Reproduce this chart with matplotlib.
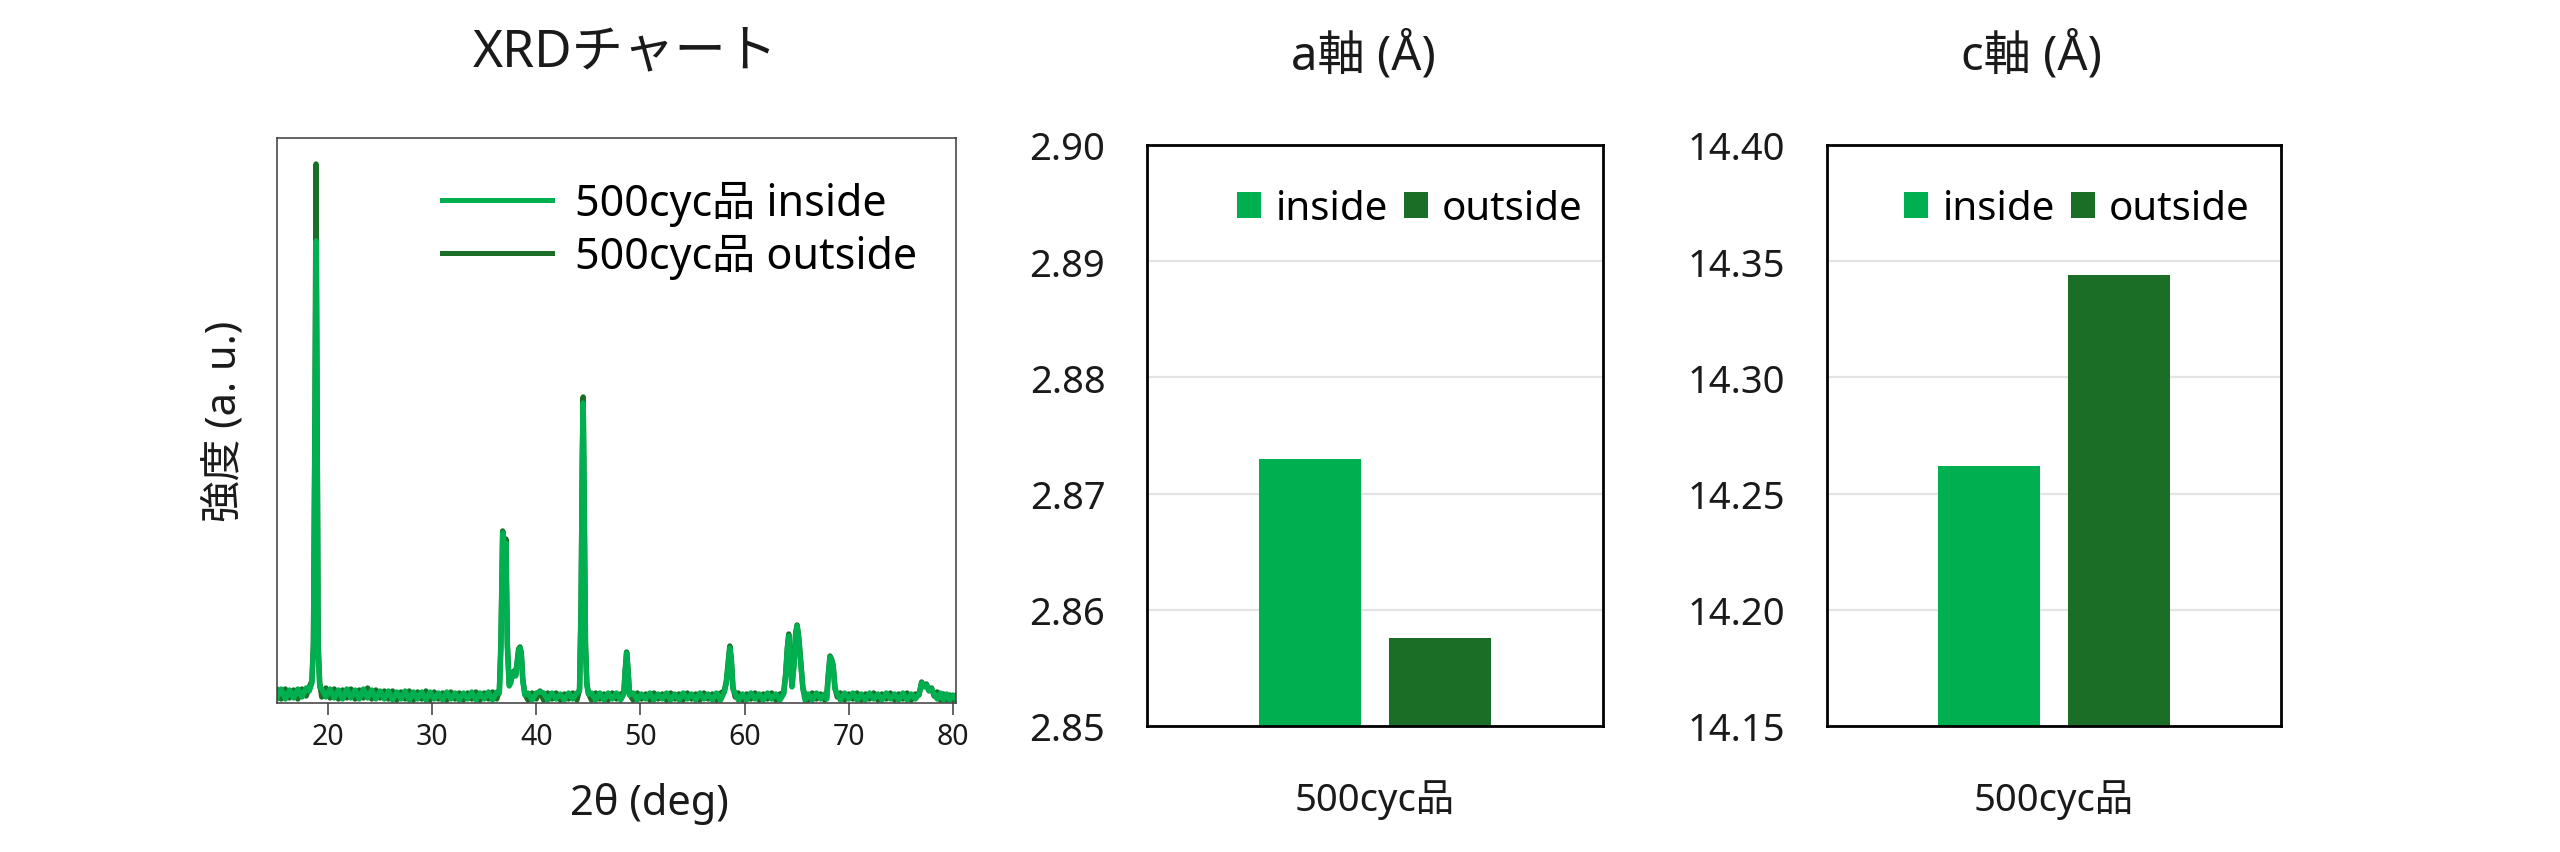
import matplotlib
matplotlib.use("Agg")
import matplotlib.pyplot as plt
from matplotlib.lines import Line2D
from matplotlib.patches import Patch

plt.rcParams['font.family'] = ['Noto Sans', 'Noto Sans CJK JP', 'DejaVu Sans']

# ---------------- data ----------------
two_theta = [
    15.1, 15.5, 15.9, 16.3, 16.7, 17.1, 17.5, 17.9, 18.2, 18.45,
    18.6, 18.75, 18.85, 18.95, 19.05, 19.2, 19.4, 19.8, 20.2, 20.6,
    21.0, 21.4, 21.8, 22.2, 22.6, 23.0, 23.4, 23.8, 24.2, 24.6,
    25.0, 25.4, 25.8, 26.2, 26.6, 27.0, 27.4, 27.8, 28.2, 28.6,
    29.0, 29.4, 29.8, 30.2, 30.6, 31.0, 31.4, 31.8, 32.2, 32.6,
    33.0, 33.4, 33.8, 34.2, 34.6, 35.0, 35.4, 35.8, 36.2, 36.45,
    36.6, 36.77, 36.92, 37.08, 37.22, 37.4, 37.55, 37.72, 37.88, 38.02,
    38.15, 38.3, 38.43, 38.56, 38.7, 38.9, 39.2, 39.6, 40.0, 40.35,
    40.7, 41.1, 41.5, 41.9, 42.3, 42.7, 43.1, 43.5, 43.9, 44.15,
    44.3, 44.42, 44.5, 44.6, 44.72, 44.85, 45.0, 45.3, 45.7, 46.1,
    46.5, 46.9, 47.3, 47.7, 48.1, 48.4, 48.55, 48.67, 48.8, 48.95,
    49.3, 49.7, 50.1, 50.5, 50.9, 51.3, 51.7, 52.1, 52.5, 52.9,
    53.3, 53.7, 54.1, 54.5, 54.9, 55.3, 55.7, 56.1, 56.5, 56.9,
    57.3, 57.7, 58.05, 58.25, 58.42, 58.58, 58.72, 58.88, 59.1, 59.4,
    59.8, 60.2, 60.6, 61.0, 61.4, 61.8, 62.2, 62.6, 63.0, 63.4,
    63.75, 63.95, 64.1, 64.24, 64.4, 64.55, 64.75, 64.9, 65.04, 65.2,
    65.4, 65.6, 65.8, 66.1, 66.5, 66.9, 67.3, 67.7, 67.9, 68.05,
    68.2, 68.35, 68.5, 68.68, 68.9, 69.2, 69.6, 70.0, 70.4, 70.8,
    71.2, 71.6, 72.0, 72.4, 72.8, 73.2, 73.6, 74.0, 74.4, 74.8,
    75.2, 75.6, 76.0, 76.4, 76.75, 77.0, 77.2, 77.45, 77.7, 77.95,
    78.2, 78.5, 78.8, 79.1, 79.4, 79.7, 80.0, 80.3,
]

intensity_outside = [
    13, 4, 14, 5, 13, 4, 14, 7, 16, 22,
    60, 300, 539, 300, 60, 20, 6, 15, 5, 14,
    4, 13, 5, 14, 4, 13, 5, 15, 4, 13,
    5, 12, 4, 12, 3, 11, 4, 12, 3, 11,
    4, 12, 3, 11, 4, 10, 3, 11, 4, 10,
    3, 10, 4, 11, 3, 10, 4, 11, 4, 12,
    60, 172, 150, 164, 60, 18, 22, 30, 32, 28,
    40, 54, 56, 50, 24, 9, 3, 10, 4, 12,
    3, 10, 4, 10, 3, 9, 4, 10, 3, 14,
    100, 250, 306, 200, 60, 20, 10, 3, 10, 4,
    9, 3, 10, 4, 9, 10, 35, 51, 35, 9,
    3, 10, 4, 9, 3, 10, 4, 9, 3, 10,
    4, 9, 3, 10, 4, 9, 3, 10, 4, 9,
    3, 10, 12, 22, 40, 57, 45, 16, 6, 10,
    3, 9, 4, 10, 3, 9, 4, 10, 3, 9,
    10, 30, 55, 69, 40, 17, 40, 70, 78, 66,
    40, 15, 8, 3, 10, 4, 9, 3, 10, 30,
    47, 44, 38, 15, 6, 10, 3, 9, 4, 10,
    3, 9, 4, 10, 3, 9, 4, 10, 3, 9,
    4, 10, 3, 9, 8, 21, 17, 19, 13, 15,
    7, 11, 3, 9, 3, 8, 3, 7,
]

intensity_inside = [
    5, 14, 4, 13, 5, 14, 6, 15, 12, 20,
    55, 280, 462, 280, 55, 16, 14, 6, 14, 5,
    13, 4, 14, 5, 13, 4, 14, 5, 13, 4,
    12, 4, 12, 3, 11, 4, 12, 3, 11, 4,
    11, 3, 11, 4, 10, 3, 11, 4, 10, 3,
    10, 4, 11, 3, 10, 4, 11, 3, 11, 10,
    55, 170, 148, 160, 55, 17, 20, 29, 31, 27,
    38, 52, 55, 48, 22, 8, 10, 3, 10, 11,
    10, 3, 10, 4, 9, 3, 10, 4, 10, 12,
    95, 245, 300, 195, 55, 18, 9, 10, 3, 10,
    3, 10, 4, 10, 3, 9, 33, 50, 33, 8,
    10, 3, 9, 4, 10, 3, 9, 4, 10, 3,
    9, 3, 10, 4, 9, 3, 10, 4, 9, 3,
    10, 3, 11, 20, 38, 55, 43, 14, 9, 3,
    9, 3, 10, 4, 9, 3, 10, 4, 9, 3,
    9, 28, 53, 67, 38, 16, 38, 68, 77, 64,
    38, 14, 3, 9, 3, 10, 4, 9, 4, 28,
    46, 43, 37, 14, 9, 3, 10, 4, 10, 3,
    9, 3, 10, 4, 9, 3, 10, 4, 9, 3,
    10, 3, 9, 4, 9, 20, 16, 18, 12, 14,
    9, 4, 10, 3, 9, 3, 8, 4,
]

series_labels = ["inside", "outside"]
xrd_labels = ["500cyc品 inside", "500cyc品 outside"]
category = ["500cyc品"]
a_axis = [2.8730, 2.8576]      # inside, outside
c_axis = [14.2619, 14.3439]    # inside, outside

a_ticks = [2.85, 2.86, 2.87, 2.88, 2.89, 2.90]
c_ticks = [14.15, 14.20, 14.25, 14.30, 14.35, 14.40]
xrd_ticks = [20, 30, 40, 50, 60, 70, 80]

assert len(two_theta) == len(intensity_outside) == len(intensity_inside)

# ---------------- style ----------------
C_IN = "#00B050"
C_OUT = "#1B6E26"
W, H = 2560, 853

fig = plt.figure(figsize=(W / 100, H / 100), dpi=100)
fig.patch.set_facecolor("white")


def fx(px):
    return px / W


def fy(py):
    return 1 - py / H


# ---------------- XRD panel ----------------
ax1 = fig.add_axes([fx(277), fy(704), (956 - 277) / W, (704 - 139) / H])
ax1.plot(two_theta, intensity_outside, color=C_OUT, lw=3.9, solid_joinstyle="round")
ax1.plot(two_theta, intensity_inside, color=C_IN, lw=3.9, solid_joinstyle="round")
ax1.set_xlim(15.1, 80.3)
ax1.set_ylim(0, 565)
ax1.set_xticks(xrd_ticks)
ax1.set_yticks([])
for s in ax1.spines.values():
    s.set_color("#3a3a3a")
    s.set_linewidth(1.1)
ax1.tick_params(axis="x", direction="out", length=8.5, width=1.1, color="#3a3a3a",
                labelsize=20.5, pad=5, labelcolor="#1a1a1a")
ax1.set_xlabel("2θ (deg)", fontsize=30, color="#1a1a1a")
ax1.xaxis.set_label_coords((649 - 277) / 679, (704 - 804) / 565)
ax1.xaxis.label.set_va("center")
ax1.set_ylabel("強度 (a. u.)", fontsize=30, color="#1a1a1a")
ax1.yaxis.set_label_coords((225 - 277) / 679, (704 - 421) / 565)
ax1.yaxis.label.set_va("center")

handles = [Line2D([0], [0], color=C_IN, lw=3.6), Line2D([0], [0], color=C_OUT, lw=3.6)]
ax1.legend(handles, xrd_labels, loc="upper left", bbox_to_anchor=(fx(442), fy(182)),
           bbox_transform=fig.transFigure, frameon=False, fontsize=31,
           handlelength=2.55, handletextpad=0.55, labelspacing=0.18,
           borderpad=0, borderaxespad=0)

fig.text(fx(625), fy(53), "XRDチャート", fontsize=37, ha="center", va="center", color="#1a1a1a")


# ---------------- bar panels ----------------
def bar_panel(left_px, right_px, values, ticks, title, title_x, legend_right_px):
    ax = fig.add_axes([fx(left_px), fy(727), (right_px - left_px) / W, (727 - 146) / H])
    xpos = [-0.1425, 0.1425]
    base = ticks[0]
    ax.bar(xpos[0], values[0] - base, bottom=base, width=0.224, color=C_IN, zorder=3,
           label=series_labels[0])
    ax.bar(xpos[1], values[1] - base, bottom=base, width=0.224, color=C_OUT, zorder=3,
           label=series_labels[1])
    ax.set_xlim(-0.5, 0.5)
    ax.set_ylim(ticks[0], ticks[-1])
    ax.set_yticks(ticks)
    ax.set_yticklabels([f"{t:.2f}" for t in ticks])
    ax.set_xticks([0])
    ax.set_xticklabels(category)
    ax.grid(axis="y", color="#E3E3E3", lw=1.6, zorder=0)
    ax.set_axisbelow(True)
    for s in ax.spines.values():
        s.set_color("black")
        s.set_linewidth(2.0)
        s.set_zorder(5)
    ax.tick_params(axis="y", length=0, pad=30, labelsize=27.5, labelcolor="#1a1a1a")
    ax.tick_params(axis="x", length=0, pad=38, labelsize=27.5, labelcolor="#1a1a1a")
    leg_handles = [Patch(facecolor=C_IN), Patch(facecolor=C_OUT)]
    ax.legend(leg_handles, series_labels, loc="upper right", ncol=2,
              bbox_to_anchor=(fx(legend_right_px), fy(190)), bbox_transform=fig.transFigure,
              frameon=False, fontsize=29, handlelength=0.6, handleheight=0.6,
              handletextpad=0.35, columnspacing=0.4, borderpad=0, borderaxespad=0)
    fig.text(fx(title_x), fy(56), title, fontsize=34, ha="center", va="center", color="#1a1a1a")
    return ax


bar_panel(1147, 1603, a_axis, a_ticks, "a軸 (Å)", 1363, 1583)
bar_panel(1827, 2281, c_axis, c_ticks, "c軸 (Å)", 2031, 2250)

fig.savefig("out.png", dpi=100, facecolor="white")
